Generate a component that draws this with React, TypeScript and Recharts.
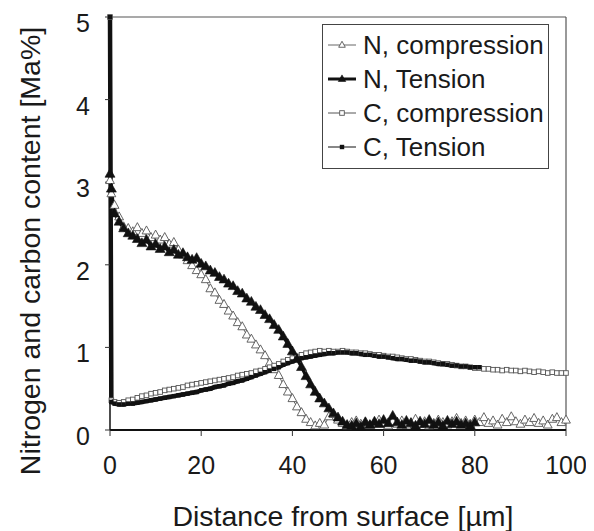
import { LineChart, Line, XAxis, YAxis, Legend, ReferenceLine, Label } from 'recharts';

const FONT = '"Liberation Sans", Arial, sans-serif';

// distance from surface [µm]
const distance = [
  0, 0.3, 1, 2, 3, 4, 5, 6, 7, 8, 9, 10, 11, 12, 13, 14, 15, 16, 17, 18, 19,
  20, 21, 22, 23, 24, 25, 26, 27, 28, 29, 30, 31, 32, 33, 34, 35, 36, 37, 38, 39,
  40, 41, 42, 43, 44, 45, 46, 47, 48, 49, 50, 51, 52, 53, 54, 55, 56, 57, 58, 59,
  60, 61, 62, 63, 64, 65, 66, 67, 68, 69, 70, 71, 72, 73, 74, 75, 76, 77, 78, 79,
  80, 81, 82, 83, 84, 85, 86, 87, 88, 89, 90, 91, 92, 93, 94, 95, 96, 97, 98, 99, 100,
];

const nCompression = [
  3.02, 2.86, 2.72, 2.58, 2.46, 2.44, 2.40, 2.45, 2.38, 2.41, 2.33,
  2.36, 2.30, 2.33, 2.25, 2.27, 2.18, 2.12, 2.05, 1.99, 1.93,
  1.88, 1.82, 1.71, 1.66, 1.57, 1.52, 1.44, 1.38, 1.30, 1.25,
  1.15, 1.10, 1.03, 0.97, 0.90, 0.81, 0.73, 0.66, 0.55, 0.46,
  0.38, 0.28, 0.21, 0.13, 0.09, 0.05, 0.08, 0.06, 0.16, 0.19,
  0.12, 0.08, 0.05, 0.09, 0.11, 0.07, 0.10, 0.06, 0.09, 0.12,
  0.08, 0.05, 0.10, 0.07, 0.11, 0.06, 0.09, 0.13, 0.07, 0.10,
  0.05, 0.08, 0.12, 0.09, 0.06, 0.10, 0.14, 0.08, 0.11, 0.07,
  0.12, 0.09, 0.15, 0.08, 0.11, 0.06, 0.13, 0.09, 0.16, 0.10,
  0.07, 0.12, 0.09, 0.14, 0.08, 0.11, 0.06, 0.13, 0.15, 0.09, 0.12,
];

// tension profiles were measured up to ~80 µm
const nTension = [
  3.10, 2.92, 2.62, 2.52, 2.44, 2.38, 2.35, 2.31, 2.26, 2.30, 2.22,
  2.25, 2.19, 2.22, 2.15, 2.18, 2.12, 2.14, 2.09, 2.06, 2.08,
  2.01, 1.98, 1.93, 1.90, 1.85, 1.82, 1.77, 1.74, 1.68, 1.65,
  1.59, 1.55, 1.49, 1.45, 1.39, 1.34, 1.27, 1.21, 1.13, 1.04,
  0.95, 0.86, 0.76, 0.65, 0.55, 0.46, 0.38, 0.32, 0.26, 0.20,
  0.15, 0.10, 0.06, 0.05, 0.08, 0.04, 0.09, 0.06, 0.10, 0.07,
  0.12, 0.08, 0.17, 0.09, 0.06, 0.11, 0.08, 0.05, 0.10, 0.07,
  0.12, 0.06, 0.09, 0.05, 0.11, 0.07, 0.10, 0.06, 0.08, 0.05,
  0.09,
];

const cCompression = [
  5.0, 0.36, 0.34, 0.33, 0.34, 0.36, 0.37, 0.39, 0.41, 0.42, 0.44,
  0.45, 0.46, 0.48, 0.49, 0.50, 0.51, 0.52, 0.54, 0.55, 0.56,
  0.57, 0.58, 0.59, 0.60, 0.61, 0.62, 0.63, 0.64, 0.66, 0.67,
  0.68, 0.69, 0.71, 0.72, 0.74, 0.76, 0.78, 0.80, 0.83, 0.85,
  0.87, 0.89, 0.91, 0.93, 0.94, 0.95, 0.96, 0.95, 0.96, 0.95,
  0.95, 0.96, 0.95, 0.94, 0.94, 0.93, 0.93, 0.92, 0.91, 0.91,
  0.90, 0.89, 0.89, 0.88, 0.87, 0.86, 0.86, 0.85, 0.84, 0.83,
  0.83, 0.82, 0.81, 0.80, 0.80, 0.79, 0.78, 0.77, 0.77, 0.76,
  0.75, 0.75, 0.74, 0.74, 0.73, 0.73, 0.72, 0.73, 0.72, 0.72,
  0.71, 0.72, 0.71, 0.70, 0.71, 0.70, 0.69, 0.70, 0.69, 0.69, 0.69,
];

const cTension = [
  5.0, 0.34, 0.32, 0.31, 0.31, 0.32, 0.32, 0.33, 0.34, 0.35, 0.36,
  0.37, 0.38, 0.39, 0.40, 0.41, 0.42, 0.43, 0.44, 0.45, 0.46,
  0.48, 0.49, 0.50, 0.52, 0.53, 0.54, 0.56, 0.57, 0.59, 0.60,
  0.62, 0.64, 0.66, 0.68, 0.70, 0.72, 0.74, 0.76, 0.79, 0.81,
  0.83, 0.85, 0.87, 0.88, 0.89, 0.90, 0.91, 0.92, 0.93, 0.93,
  0.94, 0.94, 0.94, 0.93, 0.93, 0.92, 0.91, 0.91, 0.90, 0.89,
  0.89, 0.88, 0.87, 0.86, 0.86, 0.85, 0.84, 0.84, 0.83, 0.82,
  0.82, 0.81, 0.80, 0.80, 0.79, 0.78, 0.78, 0.77, 0.77, 0.76,
  0.76, 0.76,
];

const xTicks = [0, 20, 40, 60, 80, 100];
const yTicks = [0, 1, 2, 3, 4, 5];

const data = distance.map((d, i) => ({
  d,
  nComp: nCompression[i] ?? null,
  nTens: nTension[i] ?? null,
  cComp: cCompression[i] ?? null,
  cTens: cTension[i] ?? null,
}));

type Marker = 'triOpen' | 'triFilled' | 'sqOpen' | 'sqFilled';

const marker = (kind: Marker, cx: number, cy: number, key?: string | number, small = false) => {
  const k = small ? 0.75 : 1;
  if (kind === 'triOpen') {
    return (
      <path
        key={key}
        d={`M${cx},${cy - 5 * k}L${cx + 4.4 * k},${cy + 3 * k}L${cx - 4.4 * k},${cy + 3 * k}Z`}
        fill="#fff"
        stroke="#555"
        strokeWidth={0.9}
      />
    );
  }
  if (kind === 'triFilled') {
    return (
      <path
        key={key}
        d={`M${cx},${cy - 5.5 * k}L${cx + 5 * k},${cy + 3.3 * k}L${cx - 5 * k},${cy + 3.3 * k}Z`}
        fill="#111"
        stroke="#111"
        strokeWidth={0.6}
      />
    );
  }
  if (kind === 'sqOpen') {
    return <rect key={key} x={cx - 2.3} y={cy - 2.3} width={4.6} height={4.6} fill="#fff" stroke="#555" strokeWidth={0.9} />;
  }
  return <rect key={key} x={cx - 2.2} y={cy - 2.2} width={4.4} height={4.4} fill="#111" />;
};

const dotOf = (kind: Marker) => (p: any) => {
  if (p.cx == null || p.cy == null || p.value == null) return <g key={p.index} />;
  return marker(kind, p.cx, p.cy, p.index);
};

// drawing order: compression first, tension on top
const SERIES = [
  { key: 'nComp', name: 'N, compression', stroke: '#666', width: 1, kind: 'triOpen' as Marker },
  { key: 'cComp', name: 'C, compression', stroke: '#555', width: 1.2, kind: 'sqOpen' as Marker },
  { key: 'nTens', name: 'N, Tension', stroke: '#111', width: 3, kind: 'triFilled' as Marker },
  { key: 'cTens', name: 'C, Tension', stroke: '#111', width: 4.5, kind: 'sqFilled' as Marker },
];

const LEGEND_ORDER = ['nComp', 'nTens', 'cComp', 'cTens'];

const LegendBox = () => (
  <div
    style={{
      border: '1px solid #444',
      background: '#fff',
      padding: '3px 0 4px 4px',
      fontFamily: FONT,
      fontSize: 26,
      color: '#1a1a1a',
      lineHeight: '34px',
      boxSizing: 'border-box',
      width: 227,
    }}
  >
    {LEGEND_ORDER.map((k) => {
      const s = SERIES.find((x) => x.key === k)!;
      return (
        <div key={k} style={{ display: 'flex', alignItems: 'center', whiteSpace: 'nowrap' }}>
          <svg width={30} height={14} style={{ marginRight: 6 }}>
            <line x1={1} y1={7} x2={29} y2={7} stroke={s.stroke} strokeWidth={s.key === 'nTens' ? 3 : 1} />
            {marker(s.kind, 15, 7, undefined, true)}
          </svg>
          <span>{s.name}</span>
        </div>
      );
    })}
  </div>
);

const XTick = ({ x, y, payload }: any) => (
  <text x={x} y={y + 38} textAnchor="middle" fontFamily={FONT} fontSize={25} fill="#1a1a1a">
    {payload.value}
  </text>
);

const YTick = ({ x, y, payload }: any) => (
  <text x={x} y={y + 15} textAnchor="end" fontFamily={FONT} fontSize={25} fill="#1a1a1a">
    {payload.value}
  </text>
);

export default function App() {
  return (
    <LineChart width={586} height={523} data={data} margin={{ top: 9, right: 28, bottom: 0, left: 0 }}>
      <XAxis
        dataKey="d"
        type="number"
        domain={[0, 100]}
        ticks={xTicks}
        height={101}
        axisLine={{ stroke: '#111', strokeWidth: 2 }}
        tickLine={{ stroke: '#333' }}
        tickSize={6}
        tickMargin={0}
        tick={<XTick />}
        interval={0}
      >
        <Label
          content={() => (
            <text x={335} y={518} textAnchor="middle" fontFamily={FONT} fontSize={28.5} fill="#1a1a1a">
              Distance from surface [µm]
            </text>
          )}
        />
      </XAxis>
      <YAxis
        type="number"
        domain={[0, 5]}
        ticks={yTicks}
        width={102}
        axisLine={{ stroke: '#111', strokeWidth: 1.5 }}
        tickLine={{ stroke: '#333' }}
        tickSize={5}
        tickMargin={15}
        tick={<YTick />}
        interval={0}
      >
        <Label
          content={() => (
            <text
              x={22}
              y={243}
              transform="rotate(-90 22 243)"
              textAnchor="middle"
              dominantBaseline="central"
              fontFamily={FONT}
              fontSize={28.5}
              fill="#1a1a1a"
            >
              Nitrogen and carbon content [Ma%]
            </text>
          )}
        />
      </YAxis>
      <ReferenceLine y={5} stroke="#555" strokeWidth={1.2} />
      <ReferenceLine x={100} stroke="#555" strokeWidth={1.2} />
      {SERIES.map((s) => (
        <Line
          key={s.key}
          dataKey={s.key}
          name={s.name}
          type="linear"
          stroke={s.stroke}
          strokeWidth={s.width}
          dot={dotOf(s.kind)}
          activeDot={false}
          connectNulls={false}
          isAnimationActive={false}
        />
      ))}
      <Legend
        layout="vertical"
        align="center"
        verticalAlign="middle"
        wrapperStyle={{ top: 16, left: 314, width: 227 }}
        content={() => <LegendBox />}
      />
    </LineChart>
  );
}
